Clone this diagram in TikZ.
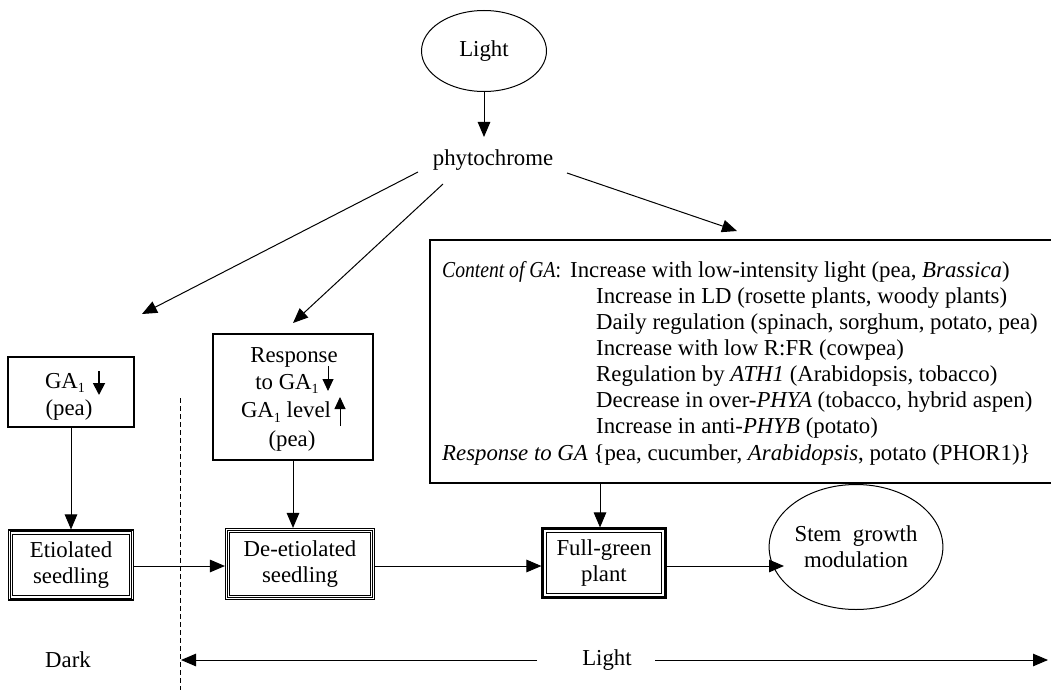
\documentclass[tikz,border=0pt]{standalone}
\usepackage{fontspec}
\setmainfont{Liberation Serif}
\usetikzlibrary{arrows.meta,shapes.geometric}
\newcommand\mysub[1]{\raisebox{-0.45ex}{\fontsize{14}{14}\selectfont #1}}
\begin{document}
\begin{tikzpicture}[x=1pt,y=-1pt,
  font=\fontsize{22.8}{26}\selectfont,
  every node/.style={inner sep=0pt},
  conn/.style={line width=1pt,-{Triangle[length=15pt,width=12.5pt]}},
  bigtip/.style={line width=1.8pt,-{Triangle[length=12pt,width=12pt]}},
  smalltip/.style={line width=0.9pt,-{Triangle[length=12pt,width=11pt]}},
  plainbox/.style={draw,line width=1.1pt},
  dbox/.style={draw,line width=1.1pt,align=center},
  txt/.style={anchor=base west}]
\useasboundingbox (0,0) rectangle (1051,690);

% top
\node[draw,ellipse,line width=1pt,minimum width=125pt,minimum height=81pt] (light) at (484,51) {Light};
\node (phy) at (493,160) {phytochrome};
\coordinate (phyin) at (484,137);
\draw[conn] (light.south) -- (phyin);

\coordinate (pL) at (418,172);
\coordinate (pM) at (443,184);
\coordinate (pR) at (567,173);
\coordinate (eL) at (142,314);
\coordinate (eM) at (293,323);
\coordinate (eR) at (737,231);
\draw[conn] (pL) -- (eL);
\draw[conn] (pM) -- (eM);
\draw[conn] (pR) -- (eR);

% GA1 box
\node[plainbox,minimum width=126pt,minimum height=70pt] (gabox) at (71,392) {};
\node (gat) at (65,383) {GA\mysub{1}};
\coordinate (ga0) at (99,371);
\coordinate (ga1) at (99,395);
\draw[bigtip] (ga0) -- (ga1);
\node (gapea) at (69,410) {(pea)};

% Response box
\node[plainbox,minimum width=160pt,minimum height=126pt] (rbox) at (293,397) {};
\node (r1) at (294,357) {Response};
\node (r2) at (287,384) {to GA\mysub{1}};
\coordinate (ra0) at (328,366);
\coordinate (ra1) at (328,391);
\draw[smalltip] (ra0) -- (ra1);
\node (r3) at (286,412) {GA\mysub{1} level};
\coordinate (rb0) at (340,426);
\coordinate (rb1) at (340,397);
\draw[smalltip] (rb0) -- (rb1);
\node (r4) at (292,441) {(pea)};

% big box
\draw[line width=1.1pt] (1051,240) -- (430,240) -- (430,483) -- (1051,483);
\coordinate (bb) at (600,483);
\node[txt] (c0) at (442,277) {\scalebox{0.86}[1]{\textit{Content of GA}:}};
\node[txt] (c1) at (570,277) {Increase with low-intensity light (pea, \textit{Brassica})};
\node[txt] (c2) at (596,303) {Increase in LD (rosette plants, woody plants)};
\node[txt] (c3) at (596,329) {Daily regulation (spinach, sorghum, potato, pea)};
\node[txt] (c4) at (596,355) {Increase with low R:FR (cowpea)};
\node[txt] (c5) at (596,381) {Regulation by \textit{ATH1} (Arabidopsis, tobacco)};
\node[txt] (c6) at (596,407) {Decrease in over-\textit{PHYA} (tobacco, hybrid aspen)};
\node[txt] (c7) at (596,433) {Increase in anti-\textit{PHYB} (potato)};
\node[txt] (c8) at (442,460) {\textit{Response to GA} \{pea, cucumber, \textit{Arabidopsis}, potato (PHOR1)\}};

% double boxes
\node[dbox,minimum width=125pt,minimum height=70pt] (et) at (71,565) {Etiolated\\seedling};
\node[dbox,minimum width=149pt,minimum height=71pt] (de) at (300,564) {De-etiolated\\seedling};
\node[dbox,minimum width=124pt,minimum height=70pt] (fg) at (604,563) {Full-green\\plant};
\foreach \bx in {et,de,fg}{
  \draw[line width=0.8pt] ([shift={(2.2,2.2)}]\bx.north west) rectangle ([shift={(-2.2,-2.2)}]\bx.south east);
  \draw[line width=1pt] ([shift={(5,5)}]\bx.north west) rectangle ([shift={(-5,-5)}]\bx.south east);
}
\node[draw,ellipse,line width=1pt,minimum width=147pt,minimum height=125pt,align=center] (st) at (856,547) {Stem\ \ growth\\modulation};

\draw[conn] (gabox.south) -- (et.north);
\draw[conn] (rbox.south) -- (rbox.south |- de.north);
\draw[conn] (bb) -- (bb |- fg.north);
\draw[conn] (et.east |- 0,566) -- (de.west |- 0,566);
\draw[conn] (de.east |- 0,566) -- (fg.west |- 0,566);
\draw[conn] (fg.east |- 0,566) -- (784,566);

% bottom
\draw[line width=1pt,dash pattern=on 5pt off 3pt] (180,398) -- (180,690);
\node (dark) at (68,660) {Dark};
\node (lb) at (607,660) {Light};
\coordinate (la0) at (537,660);
\coordinate (la1) at (181,660);
\coordinate (lc0) at (655,660);
\coordinate (lc1) at (1048,660);
\draw[conn] (la0) -- (la1);
\draw[conn] (lc0) -- (lc1);
\end{tikzpicture}
\end{document}
